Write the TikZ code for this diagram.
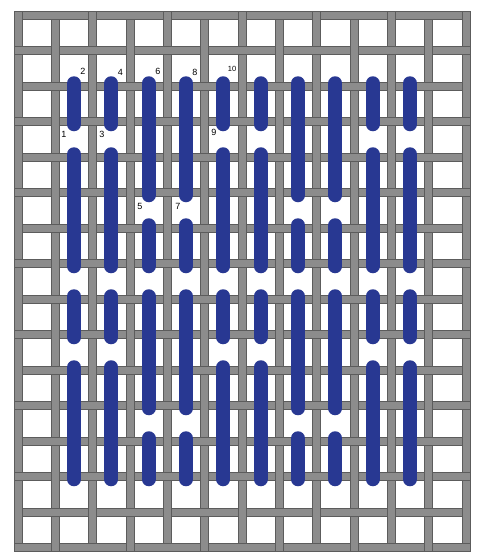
\documentclass[tikz,border=0pt]{standalone}
\usepackage{fontspec}
\setmainfont{Liberation Sans}
\definecolor{barfill}{RGB}{140,140,140}
\definecolor{barline}{RGB}{92,92,92}
\definecolor{stitchblue}{RGB}{40,56,146}
\tikzset{
  bar/.style={fill=barfill, draw=barline, line width=0.6pt},
  barpatch/.style={fill=barfill},
  baredge/.style={draw=barline, line width=0.6pt},
  stitch/.style={draw=stitchblue, line width=14pt, line cap=round},
  lbl/.style={font=\fontsize{9}{9}\selectfont, inner sep=0pt, text=black},
  lblsmall/.style={font=\fontsize{7.5}{7.5}\selectfont, inner sep=0pt, text=black}
}
\begin{document}
\begin{tikzpicture}[x=1pt,y=-1pt]
\useasboundingbox (0,0) rectangle (480,560);
\fill[white] (0,0) rectangle (480,560);
% vertical bars
\foreach \i in {0,...,12}{
  \pgfmathsetmacro\xx{18+37.333*\i}
  \filldraw[bar] (\xx-4,11) rectangle (\xx+4,551.5);
}
% horizontal bars
\foreach \j in {0,...,15}{
  \pgfmathsetmacro\yy{15+35.5*\j}
  \filldraw[bar] (14,\yy-4) rectangle (470,\yy+4);
}
% weave: vertical bar over horizontal at alternate crossings
\foreach \i in {0,...,12}{
  \foreach \j in {0,...,15}{
    \pgfmathtruncatemacro\wv{mod(\i+\j,2)}
    \pgfmathsetmacro\xx{18+37.333*\i}
    \pgfmathsetmacro\yy{15+35.5*\j}
    \ifnum\wv=0
      \ifnum\j=0
        \fill[barpatch] (\xx-4,11) rectangle (\xx+4,\yy+4.6);
        \draw[baredge] (\xx-4,\yy+4.6) -- (\xx-4,11) -- (\xx+4,11) -- (\xx+4,\yy+4.6);
      \else\ifnum\j=15
        \fill[barpatch] (\xx-4,\yy-4.6) rectangle (\xx+4,551.5);
        \draw[baredge] (\xx-4,\yy-4.6) -- (\xx-4,551.5) -- (\xx+4,551.5) -- (\xx+4,\yy-4.6);
      \else
        \fill[barpatch] (\xx-4,\yy-4.6) rectangle (\xx+4,\yy+4.6);
        \draw[baredge] (\xx-4,\yy-4.6) -- (\xx-4,\yy+4.6);
        \draw[baredge] (\xx+4,\yy-4.6) -- (\xx+4,\yy+4.6);
      \fi\fi
    \fi
  }
}
% stitches
\foreach \k in {1,2,5,6,9,10}{
  \pgfmathsetmacro\xx{18+37.333*(\k+0.5)}
  \foreach \a/\b in {1/3,3/7,7/9,9/13}{
    \draw[stitch] (\xx,{15+35.5*(\a+0.5)+15}) -- (\xx,{15+35.5*(\b+0.5)-15});
  }
}
\foreach \k in {3,4,7,8}{
  \pgfmathsetmacro\xx{18+37.333*(\k+0.5)}
  \foreach \a/\b in {1/5,5/7,7/11,11/13}{
    \draw[stitch] (\xx,{15+35.5*(\a+0.5)+15}) -- (\xx,{15+35.5*(\b+0.5)-15});
  }
}
% labels
\node[lbl] (l1) at (64,134) {1};
\node[lbl] (l2) at (83,71) {2};
\node[lbl] (l3) at (102,134) {3};
\node[lbl] (l4) at (120.5,72) {4};
\node[lbl] (l5) at (140,206) {5};
\node[lbl] (l6) at (158,71.5) {6};
\node[lbl] (l7) at (178,206) {7};
\node[lbl] (l8) at (195,72) {8};
\node[lbl] (l9) at (214,132.5) {9};
\node[lblsmall] (l10) at (232,69) {10};
\end{tikzpicture}
\end{document}
